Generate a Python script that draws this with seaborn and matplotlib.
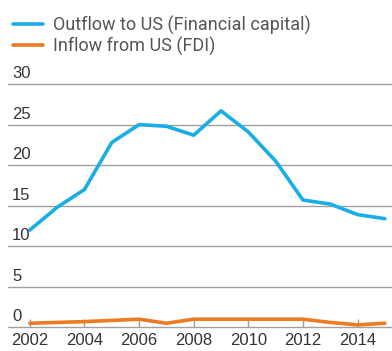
import matplotlib
matplotlib.use("Agg")
import matplotlib.pyplot as plt
import matplotlib.transforms as mtransforms
import seaborn as sns
import pandas as pd

years = list(range(2002, 2016))
outflow_financial = [12.0, 14.8, 17.0, 22.8, 25.0, 24.8, 23.7, 26.7, 24.1, 20.5, 15.7, 15.2, 13.9, 13.4]
inflow_fdi = [0.5, 0.6, 0.7, 0.85, 1.0, 0.5, 1.0, 1.0, 1.0, 1.0, 1.0, 0.6, 0.3, 0.5]
series_names = ["Outflow to US (Financial capital)", "Inflow from US (FDI)"]
y_ticks = [0, 5, 10, 15, 20, 25, 30]
x_ticks = [2002, 2004, 2006, 2008, 2010, 2012, 2014]

df = pd.DataFrame({
    "year": years * 2,
    "value": outflow_financial + inflow_fdi,
    "series": [series_names[0]] * len(years) + [series_names[1]] * len(years),
})

sns.set_theme(style="white")
plt.rcParams["font.family"] = ["Liberation Sans", "DejaVu Sans"]

W, H = 392, 351
fig = plt.figure(figsize=(W / 100, H / 100), dpi=100)
ax_left, ax_right = 8 / W, 1.0
ax_bottom = (H - 327.3) / H
ax_top = (H - 76) / H
ax = fig.add_axes([ax_left, ax_bottom, ax_right - ax_left, ax_top - ax_bottom])

palette = {series_names[0]: "#1aaee6", series_names[1]: "#ee7a22"}
sns.lineplot(data=df, x="year", y="value", hue="series", palette=palette,
             linewidth=2.6, ax=ax, legend=False)

ax.set_xlim(2001.2, 2015.26)
ax.set_ylim(0, 31)
ax.set_xlabel("")
ax.set_ylabel("")

# horizontal gridlines
for v in y_ticks[1:]:
    ax.axhline(v, color="#a0a0a0", linewidth=1.0, zorder=0)

for s in ["top", "right", "left"]:
    ax.spines[s].set_visible(False)
ax.spines["bottom"].set_color("#a0a0a0")
ax.spines["bottom"].set_linewidth(1.0)

ax.set_yticks([])
ax.set_xticks(x_ticks)
ax.set_xticklabels([str(x) for x in x_ticks])
ax.tick_params(axis="x", direction="in", length=6, width=1.0, color="#a0a0a0",
               labelsize=12, labelcolor="#333333", pad=4)
ax.tick_params(axis="x", bottom=True)

# y labels sit just above their gridlines
offset = mtransforms.offset_copy(ax.get_yaxis_transform(), fig=fig, x=0, y=3, units="dots")
for v in y_ticks:
    ax.text(4 / (W * (ax_right - ax_left)), v, str(v), transform=offset,
            ha="left", va="bottom", fontsize=12, color="#333333")

# legend
handles = [plt.Line2D([], [], color=palette[n], linewidth=2.6) for n in series_names]
leg = fig.legend(handles, series_names, loc="upper left",
                 bbox_to_anchor=(13 / W, 1 - 15.5 / H), frameon=False,
                 borderpad=0, borderaxespad=0,
                 handlelength=1.65, handletextpad=0.55, labelspacing=0.12,
                 prop={"family": "Roboto", "size": 13})
for t in leg.get_texts():
    t.set_color("#555555")

fig.savefig("out.png", dpi=100)
